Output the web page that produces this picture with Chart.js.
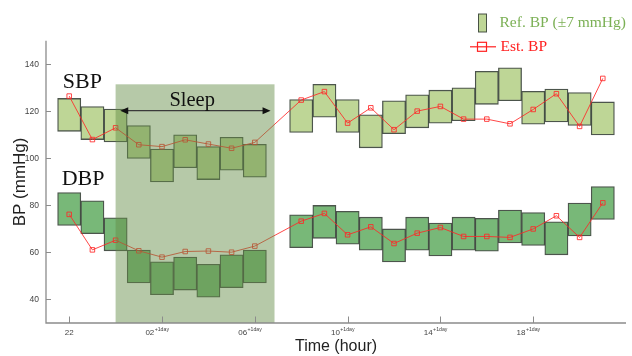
<!DOCTYPE html>
<html>
<head>
<meta charset="utf-8">
<script src="https://cdn.jsdelivr.net/npm/chart.js@4.4.1/dist/chart.umd.min.js"></script>
<style>
  html, body { margin: 0; padding: 0; background: #fff; }
  #wrap { width: 632px; height: 356px; }
</style>
</head>
<body>
<div id="wrap"><canvas id="bpChart" width="632" height="356"></canvas></div>
<script>
// hours counted from midnight of day 1 (24 = 00 next day), hour 7 has no sample
const hours = [22, 23, 24, 25, 26, 27, 28, 29, 30, 32, 33, 34, 35, 36, 37, 38, 39, 40, 41, 42, 43, 44, 45];

// reference BP (centre of the +/-7 mmHg box)
const sbpRef = [118.5, 115, 114, 107, 97, 103, 98, 102, 99, 118, 124.5, 118, 111.5, 117.5, 120, 122, 123, 130, 131.5, 121.5, 122.5, 121, 117];
const dbpRef = [78.5, 75, 67.7, 54, 49, 51, 48, 52, 54, 69, 73, 70.5, 68, 63, 68, 65.5, 68, 67.5, 71, 70, 66, 74, 81];

// estimated BP
const sbpEst = [126.5, 108, 113, 105.8, 105, 107.9, 106.1, 104.3, 106.8, 124.8, 128.4, 115, 121.5, 112.2, 120.1, 122.1, 116.7, 116.7, 114.7, 120.8, 127.5, 113.6, 134];
const dbpEst = [76.2, 61.1, 65.2, 60.7, 58, 60.4, 60.6, 60.1, 62.7, 73.3, 76.6, 67.5, 70.9, 63.8, 68.2, 70.6, 66.8, 66.8, 66.4, 70, 75.6, 66.4, 81.1];

const refBand = 7;
const xTickValues = [22, 26, 30, 34, 38, 42];
const xTickLabels = ['22', '02', '06', '10', '14', '18'];
const xTickSup = ['', '+1day', '+1day', '+1day', '+1day', '+1day'];
const yTickValues = [40, 60, 80, 100, 120, 140];

const sleepFrom = 24, sleepTo = 30.85, sleepTop = 131.5;

const boxes = (ref) => hours.map((h, i) => ({x: h, y: [ref[i] - refBand, ref[i] + refBand]}));
const points = (est) => hours.map((h, i) => ({x: h, y: est[i]}));

const edge = 'rgba(45,55,45,0.85)';
const redLine = 'rgba(255,40,40,0.85)';
const sans = '"Liberation Sans", Arial, sans-serif';
const serif = '"Liberation Serif", serif';

const extras = {
  id: 'extras',
  afterDatasetsDraw(chart) {
    const {ctx, chartArea: a, scales: {x, y}} = chart;
    // sleep shading over the bars
    ctx.save();
    ctx.fillStyle = 'rgba(100,140,70,0.47)';
    const sx0 = x.getPixelForValue(sleepFrom), sx1 = x.getPixelForValue(sleepTo);
    const sy0 = y.getPixelForValue(sleepTop);
    ctx.fillRect(sx0, sy0, sx1 - sx0, a.bottom - sy0);

    // double arrow
    const ay = y.getPixelForValue(120.3);
    const ax0 = x.getPixelForValue(24.2), ax1 = x.getPixelForValue(30.68);
    ctx.strokeStyle = '#3a3a3a';
    ctx.fillStyle = '#111';
    ctx.lineWidth = 1.4;
    ctx.beginPath(); ctx.moveTo(ax0 + 6, ay); ctx.lineTo(ax1 - 6, ay); ctx.stroke();
    ctx.beginPath(); ctx.moveTo(ax0, ay); ctx.lineTo(ax0 + 8, ay - 3.5); ctx.lineTo(ax0 + 8, ay + 3.5); ctx.closePath(); ctx.fill();
    ctx.beginPath(); ctx.moveTo(ax1, ay); ctx.lineTo(ax1 - 8, ay - 3.5); ctx.lineTo(ax1 - 8, ay + 3.5); ctx.closePath(); ctx.fill();

    ctx.fillStyle = '#111';
    ctx.font = '20.5px ' + serif;
    ctx.textAlign = 'center';
    ctx.textBaseline = 'middle';
    ctx.fillText('Sleep', x.getPixelForValue(27.3), y.getPixelForValue(124.5));
    ctx.font = '22px ' + serif;
    ctx.fillText('SBP', x.getPixelForValue(22.57), y.getPixelForValue(132.4));
    ctx.fillText('DBP', x.getPixelForValue(22.6), y.getPixelForValue(91));
    ctx.restore();
  },
  afterDraw(chart) {
    const {ctx, chartArea: a, scales: {x, y}} = chart;
    ctx.save();
    // axis lines
    ctx.strokeStyle = '#8c8c8c';
    ctx.lineWidth = 1.3;
    ctx.beginPath();
    ctx.moveTo(a.left, a.top); ctx.lineTo(a.left, a.bottom); ctx.lineTo(a.right, a.bottom);
    ctx.stroke();
    // inward tick marks
    ctx.lineWidth = 1;
    ctx.beginPath();
    xTickValues.forEach(v => { const px = Math.round(x.getPixelForValue(v)) + 0.5; ctx.moveTo(px, a.bottom); ctx.lineTo(px, a.bottom - 6.5); });
    yTickValues.forEach(v => { const py = Math.round(y.getPixelForValue(v)) + 0.5; ctx.moveTo(a.left, py); ctx.lineTo(a.left + 5, py); });
    ctx.stroke();

    // x tick labels with superscript
    ctx.fillStyle = '#444';
    ctx.textBaseline = 'alphabetic';
    ctx.textAlign = 'left';
    const mainFont = '8px ' + sans, supFont = '5.2px ' + sans;
    xTickValues.forEach((v, i) => {
      const px = x.getPixelForValue(v);
      ctx.font = mainFont;
      const w0 = ctx.measureText(xTickLabels[i]).width;
      ctx.font = supFont;
      const w1 = xTickSup[i] ? ctx.measureText(xTickSup[i]).width : 0;
      const start = xTickSup[i] ? px - 5 - (w0 + w1) / 2 : px - w0 / 2;
      ctx.font = mainFont;
      ctx.fillText(xTickLabels[i], start, a.bottom + 11.5);
      if (xTickSup[i]) {
        ctx.font = supFont;
        ctx.fillText(xTickSup[i], start + w0 + 0.4, a.bottom + 8);
      }
    });

    // axis titles
    ctx.fillStyle = '#222';
    ctx.textAlign = 'center';
    ctx.textBaseline = 'middle';
    ctx.font = '16px ' + sans;
    ctx.fillText('Time (hour)', (a.left + a.right) / 2, 347);
    ctx.font = '17px ' + sans;
    ctx.translate(20, (a.top + a.bottom) / 2);
    ctx.rotate(-Math.PI / 2);
    ctx.fillText('BP (mmHg)', 0, 0);
    ctx.setTransform(1, 0, 0, 1, 0, 0);

    // legend
    ctx.fillStyle = '#bed696';
    ctx.strokeStyle = edge;
    ctx.lineWidth = 1;
    ctx.fillRect(478.5, 14, 8, 18);
    ctx.strokeRect(478.5, 14, 8, 18);
    ctx.font = '15.5px ' + serif;
    ctx.textAlign = 'left';
    ctx.fillStyle = '#7bb055';
    ctx.fillText('Ref. BP (\u00B17 mmHg)', 499.5, 22.5);
    ctx.strokeStyle = '#ff2020';
    ctx.lineWidth = 1.2;
    ctx.beginPath(); ctx.moveTo(470, 46.8); ctx.lineTo(496, 46.8); ctx.stroke();
    ctx.strokeRect(477.5, 42.3, 9, 9);
    ctx.fillStyle = '#ff2020';
    ctx.fillText('Est. BP', 500.5, 47);
    ctx.restore();
  }
};

const lineSet = (data) => ({
  type: 'line',
  data: data,
  order: 1,
  borderColor: redLine,
  borderWidth: 1,
  pointStyle: 'rect',
  pointRadius: 3.2,
  pointBorderWidth: 1,
  pointBorderColor: redLine,
  pointBackgroundColor: 'rgba(255,255,255,0)',
  tension: 0
});

const boxSet = (data, color) => ({
  type: 'bar',
  data: data,
  order: 2,
  grouped: false,
  backgroundColor: color,
  borderColor: edge,
  borderWidth: 1.3,
  borderSkipped: false,
  barPercentage: 1,
  categoryPercentage: 1
});

new Chart(document.getElementById('bpChart'), {
  type: 'bar',
  data: {
    datasets: [
      lineSet(points(sbpEst)),
      lineSet(points(dbpEst)),
      boxSet(boxes(sbpRef), '#bed696'),
      boxSet(boxes(dbpRef), '#78b878')
    ]
  },
  options: {
    responsive: false,
    animation: false,
    layout: { padding: { top: 40.8, right: 6, left: 0, bottom: 0 } },
    plugins: { legend: { display: false }, tooltip: { enabled: false } },
    scales: {
      x: {
        type: 'linear',
        min: 21, max: 46,
        offset: false,
        grid: { display: false, drawTicks: false },
        border: { display: false },
        ticks: { display: false },
        afterFit: (s) => { s.height = 33; }
      },
      y: {
        min: 30, max: 150,
        grid: { display: false, drawTicks: false },
        border: { display: false },
        afterBuildTicks: (s) => { s.ticks = yTickValues.map(v => ({value: v})); },
        ticks: {
          padding: 7,
          color: '#444',
          font: { family: sans, size: 8.5 }
        },
        afterFit: (s) => { s.width = 46; }
      }
    }
  },
  plugins: [extras]
});
</script>
</body>
</html>
